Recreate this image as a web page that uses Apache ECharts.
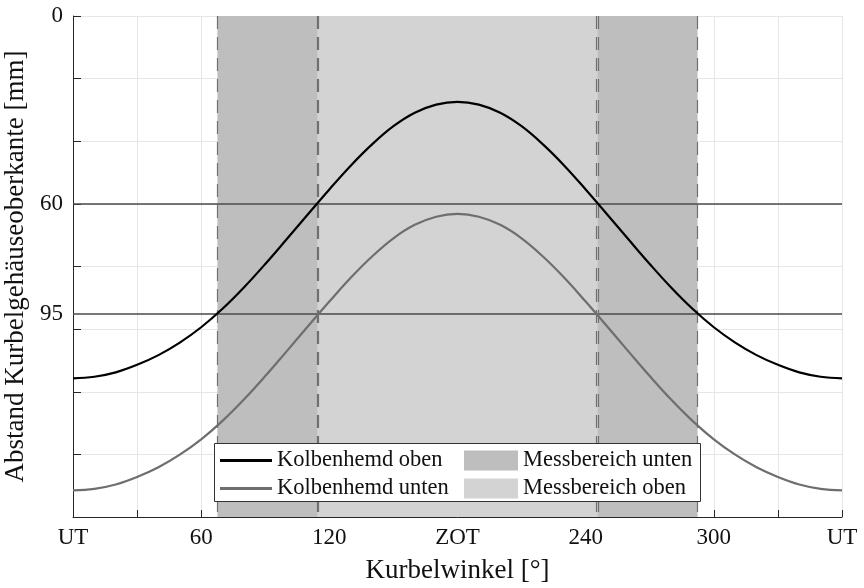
<!DOCTYPE html>
<html>
<head>
<meta charset="utf-8">
<title>Kolbenhemd</title>
<script src="https://cdn.jsdelivr.net/npm/echarts@6/dist/echarts.min.js"></script>
<style>
  html, body { margin: 0; padding: 0; background: #ffffff; }
  #chart { width: 864px; height: 588px; }
</style>
</head>
<body>
<div id="chart"></div>
<script>
// Crank angle in degrees, measured from bottom dead centre (UT)
const crankAngle = [
  0, 10, 20, 30, 40, 50, 60, 70, 80, 90, 100, 110, 120, 130, 140, 150, 160, 170, 180,
  190, 200, 210, 220, 230, 240, 250, 260, 270, 280, 290, 300, 310, 320, 330, 340, 350, 360
];
// Distance from crankcase top edge, upper skirt edge [mm]
const skirtTop = [
  115.7, 115.2, 113.8, 111.4, 108.3, 104.3, 99.4, 93.5, 86.7, 79.2, 71.3, 63.3, 55.4, 47.8, 41.0, 35.2, 30.9, 28.3, 27.4,
  28.3, 30.9, 35.2, 41.0, 47.8, 55.4, 63.3, 71.3, 79.2, 86.7, 93.5, 99.4, 104.3, 108.3, 111.4, 113.8, 115.2, 115.7
];
// Distance from crankcase top edge, lower skirt edge [mm]
const skirtBottom = [
  151.5, 151.0, 149.6, 147.2, 144.1, 140.1, 135.2, 129.3, 122.5, 115.0, 107.1, 99.1, 91.2, 83.6, 76.8, 71.0, 66.7, 64.1, 63.2,
  64.1, 66.7, 71.0, 76.8, 83.6, 91.2, 99.1, 107.1, 115.0, 122.5, 129.3, 135.2, 140.1, 144.1, 147.2, 149.6, 151.0, 151.5
];
// Measuring windows (crank angle ranges)
const rangeLower = [[67.6, 114.6], [245.4, 292.4]];
const rangeUpper = [[114.6, 245.4]];
// Window boundaries and sensor levels
const boundaryAngles = [67.6, 114.2, 115.0, 245.0, 245.8, 292.4];
const sensorLevels = [60, 95];
// Axis labels
const xTickValues = [0, 60, 120, 180, 240, 300, 360];
const xTickLabels = ['UT', '60', '120', 'ZOT', '240', '300', 'UT'];
const yTickValues = [0, 60, 95];

const FONT = 'Liberation Serif';
const AXIS_COLOR = '#262626';
const GRID_COLOR = '#e6e6e6';
const SHADE_LOWER = '#bebebe';
const SHADE_UPPER = '#d3d3d3';
const TOP_COLOR = '#000000';
const BOTTOM_COLOR = '#6e6e6e';

const chart = echarts.init(document.getElementById('chart'), null, { renderer: 'canvas' });

const lineTop = crankAngle.map((a, i) => [a, skirtTop[i]]);
const lineBottom = crankAngle.map((a, i) => [a, skirtBottom[i]]);

const refLines = [];
sensorLevels.forEach(v => refLines.push({
  yAxis: v,
  lineStyle: { color: '#4a4a4a', width: 1.5, type: 'solid' }
}));
boundaryAngles.forEach(v => refLines.push({
  xAxis: v,
  lineStyle: { color: '#707070', width: 1.2, type: [13, 8] }
}));

const legendText = { fontFamily: FONT, fontSize: 22.5, color: '#111', lineHeight: 22 };

const option = {
  animation: false,
  backgroundColor: '#ffffff',
  textStyle: { fontFamily: FONT },
  grid: { left: 73, right: 22, top: 16, bottom: 71, containLabel: false, outerBoundsMode: 'none' },
  xAxis: {
    type: 'value',
    min: 0,
    max: 360,
    interval: 30,
    name: 'Kurbelwinkel [°]',
    nameLocation: 'middle',
    nameGap: 40,
    nameTextStyle: { fontFamily: FONT, fontSize: 27, color: '#111' },
    axisLine: { show: true, onZero: false, lineStyle: { color: AXIS_COLOR, width: 1 } },
    axisTick: { show: true, inside: true, length: 7, lineStyle: { color: AXIS_COLOR } },
    axisLabel: {
      customValues: xTickValues,
      formatter: v => xTickLabels[xTickValues.indexOf(v)] ?? '',
      fontFamily: FONT, fontSize: 23, color: '#111', margin: 9
    },
    splitLine: { show: true, lineStyle: { color: GRID_COLOR, width: 1 } }
  },
  yAxis: {
    type: 'value',
    inverse: true,
    min: 0,
    max: 160,
    interval: 20,
    name: 'Abstand Kurbelgehäuseoberkante [mm]',
    nameLocation: 'middle',
    nameGap: 43,
    nameTextStyle: { fontFamily: FONT, fontSize: 27, color: '#111' },
    axisLine: { show: true, onZero: false, lineStyle: { color: AXIS_COLOR, width: 1 } },
    axisTick: { show: true, inside: true, length: 8, lineStyle: { color: AXIS_COLOR } },
    axisLabel: {
      customValues: yTickValues,
      fontFamily: FONT, fontSize: 23, color: '#111', margin: 10
    },
    splitLine: { show: true, lineStyle: { color: GRID_COLOR, width: 1 } }
  },
  legend: [
    {
      orient: 'vertical',
      left: 220,
      top: 449,
      padding: 0,
      itemGap: 5,
      itemWidth: 52,
      itemHeight: 3,
      z: 20,
      textStyle: legendText,
      data: [
        { name: 'Kolbenhemd oben', icon: 'rect', itemStyle: { color: TOP_COLOR } },
        { name: 'Kolbenhemd unten', icon: 'rect', itemStyle: { color: BOTTOM_COLOR } }
      ]
    },
    {
      orient: 'vertical',
      left: 464,
      top: 449,
      padding: 0,
      itemGap: 5,
      itemWidth: 54,
      itemHeight: 20,
      z: 20,
      textStyle: legendText,
      data: [
        { name: 'Messbereich unten', icon: 'rect', itemStyle: { color: SHADE_LOWER } },
        { name: 'Messbereich oben', icon: 'rect', itemStyle: { color: SHADE_UPPER } }
      ]
    }
  ],
  graphic: [
    {
      type: 'rect',
      z: 15,
      shape: { x: 214.5, y: 443.5, width: 486, height: 58 },
      style: { fill: '#ffffff', stroke: '#333333', lineWidth: 1 }
    }
  ],
  series: [
    {
      name: 'Messbereich unten',
      type: 'line',
      data: [],
      color: SHADE_LOWER,
      silent: true,
      z: 1,
      markArea: {
        silent: true,
        itemStyle: { color: SHADE_LOWER, opacity: 1 },
        data: rangeLower.map(r => [{ xAxis: r[0] }, { xAxis: r[1] }])
      }
    },
    {
      name: 'Messbereich oben',
      type: 'line',
      data: [],
      color: SHADE_UPPER,
      silent: true,
      z: 1,
      markArea: {
        silent: true,
        itemStyle: { color: SHADE_UPPER, opacity: 1 },
        data: rangeUpper.map(r => [{ xAxis: r[0] }, { xAxis: r[1] }])
      }
    },
    {
      name: 'Referenzlinien',
      type: 'line',
      data: [],
      silent: true,
      z: 2,
      markLine: {
        silent: true,
        symbol: 'none',
        label: { show: false },
        data: refLines
      }
    },
    {
      name: 'Kolbenhemd oben',
      type: 'line',
      data: lineTop,
      smooth: 0.4,
      showSymbol: false,
      symbol: 'none',
      color: TOP_COLOR,
      lineStyle: { color: TOP_COLOR, width: 2.2 },
      z: 5
    },
    {
      name: 'Kolbenhemd unten',
      type: 'line',
      data: lineBottom,
      smooth: 0.4,
      showSymbol: false,
      symbol: 'none',
      color: BOTTOM_COLOR,
      lineStyle: { color: BOTTOM_COLOR, width: 2.2 },
      z: 5
    }
  ]
};

chart.setOption(option);
</script>
</body>
</html>
